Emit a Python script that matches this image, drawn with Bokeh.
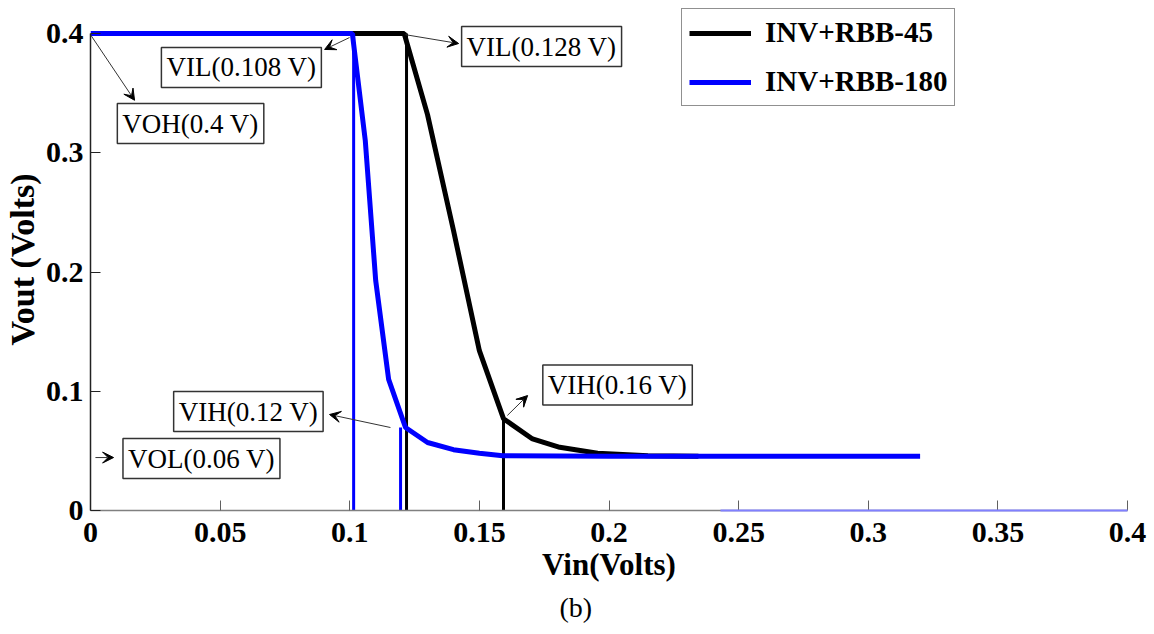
from bokeh.plotting import figure
from bokeh.models import (Range1d, FixedTicker, Label, Arrow, VeeHead, Legend, LegendItem, Title)
from bokeh.embed import file_html
from bokeh.resources import INLINE

# ---- data ----
vin_45 = [0.1, 0.121, 0.13, 0.14, 0.15, 0.1593, 0.1705, 0.181, 0.1956, 0.215, 0.2345]
vout_45 = [0.4, 0.4, 0.332, 0.235, 0.134, 0.077, 0.060, 0.053, 0.048, 0.046, 0.0455]

vin_180 = [0.0, 0.101, 0.106, 0.11, 0.115, 0.1215, 0.13, 0.14, 0.15, 0.159, 0.2, 0.25, 0.32]
vout_180 = [0.4, 0.4, 0.31, 0.193, 0.11, 0.0696, 0.057, 0.051, 0.048, 0.046, 0.0455, 0.0455, 0.0455]

# vertical marker lines (x position, top value, series)
mark_x = [0.1015, 0.1196, 0.1219, 0.1593]
mark_top = [0.4, 0.0696, 0.4, 0.077]
mark_color = ["#0000ff", "#0000ff", "#000000", "#000000"]

# baseline trace of the RBB-180 sweep along 0 V
base_x = [0.243, 0.4]
base_y = [0.0, 0.0]

x_ticks = [0, 0.05, 0.1, 0.15, 0.2, 0.25, 0.3, 0.35, 0.4]
x_tick_labels = ["0", "0.05", "0.1", "0.15", "0.2", "0.25", "0.3", "0.35", "0.4"]
y_ticks = [0, 0.1, 0.2, 0.3, 0.4]
y_tick_labels = ["0", "0.1", "0.2", "0.3", "0.4"]

series_names = ["INV+RBB-45", "INV+RBB-180"]

annot_texts = ["VOH(0.4 V)", "VIL(0.108 V)", "VIL(0.128 V)", "VIH(0.12 V)", "VOL(0.06 V)", "VIH(0.16 V)"]
caption = "(b)"

# ---- figure ----
SERIF = "Liberation Serif"
y_top = 0.4 + 25 / 1192.5  # headroom above the axis so the legend box is not clipped
p = figure(width=1150, height=630, output_backend="svg", toolbar_location=None,
           x_range=Range1d(0, 0.4), y_range=Range1d(0, y_top),
           min_border_left=90, min_border_right=23, min_border_top=8, min_border_bottom=120)
p.outline_line_color = None
p.xgrid.visible = False
p.ygrid.visible = False
p.background_fill_color = "white"

p.xaxis.ticker = FixedTicker(ticks=x_ticks)
p.xaxis.major_label_overrides = {t: l for t, l in zip(x_ticks, x_tick_labels)}
p.yaxis.ticker = FixedTicker(ticks=y_ticks)
p.yaxis.major_label_overrides = {t: l for t, l in zip(y_ticks, y_tick_labels)}
p.yaxis.bounds = (0, 0.4)
for ax in (p.xaxis, p.yaxis):
    ax.minor_tick_line_color = None
    ax.major_tick_in = 10
    ax.major_tick_out = 0
    ax.major_label_text_font = SERIF
    ax.major_label_text_font_style = "bold"
    ax.major_label_text_font_size = "30px"
    ax.major_label_text_color = "black"
    ax.axis_label_text_font = SERIF
    ax.axis_label_text_font_style = "bold"
    ax.axis_label_text_color = "black"
    ax.axis_line_width = 1.5
p.xaxis.axis_line_color = "#808080"
p.xaxis.major_tick_line_color = "#606060"
p.yaxis.axis_line_color = "#222222"
p.yaxis.major_tick_line_color = "#222222"
p.xaxis.major_label_standoff = 12
p.yaxis.major_label_standoff = 7
p.xaxis.axis_label = "Vin(Volts)"
p.yaxis.axis_label = "Vout (Volts)"
p.xaxis.axis_label_text_font_size = "31px"
p.yaxis.axis_label_text_font_size = "34px"
p.xaxis.axis_label_standoff = 2
p.yaxis.axis_label_standoff = 2

# ---- marks ----
rb = p.segment(x0=base_x[0], y0=base_y[0], x1=base_x[1], y1=base_y[1], line_color="#8080ff", line_width=2)
rb.level = "overlay"
r45 = p.line(vin_45, vout_45, line_color="black", line_width=5)
p.segment(x0=mark_x, y0=[0] * len(mark_x), x1=mark_x, y1=mark_top, line_color=mark_color, line_width=3)
r180 = p.line(vin_180, vout_180, line_color="#0000ff", line_width=5)

legend = Legend(items=[LegendItem(label=series_names[0], renderers=[r45]),
                       LegendItem(label=series_names[1], renderers=[r180])],
                location=(591, 404))
legend.label_text_font = SERIF
legend.label_text_font_style = "bold"
legend.label_text_font_size = "29px"
legend.label_text_color = "black"
legend.glyph_width = 62
legend.glyph_height = 30
legend.label_height = 30
legend.label_standoff = 14
legend.spacing = 16
legend.padding = 7
legend.margin = 0
legend.border_line_color = "#222222"
legend.border_line_width = 1.5
legend.background_fill_alpha = 1.0
p.add_layout(legend, "center")

# ---- annotations ----
label_pos = [(0.0386, 0.3245), (0.0582, 0.3715), (0.174, 0.389), (0.0609, 0.083), (0.0428, 0.0436), (0.2033, 0.1052)]
arrow_pos = [((0.0, 0.399), (0.017, 0.344)),
             ((0.0999, 0.3966), (0.0903, 0.3866)),
             ((0.1215, 0.399), (0.142, 0.3916)),
             ((0.1157, 0.0696), (0.0922, 0.0805)),
             ((0.0019, 0.0444), (0.0089, 0.0444)),
             ((0.1608, 0.0797), (0.1686, 0.0964))]
for txt, (lx, ly), ((x0, y0), (x1, y1)) in zip(annot_texts, label_pos, arrow_pos):
    p.add_layout(Label(x=lx, y=ly, text=txt, text_align="center", text_baseline="middle",
                       text_font=SERIF, text_font_size="27px", text_color="black",
                       border_line_color="#333333", border_line_width=1.5,
                       background_fill_color="white", padding=5))
    p.add_layout(Arrow(x_start=x0, y_start=y0, x_end=x1, y_end=y1, line_color="#333333", line_width=1,
                       end=VeeHead(size=11, line_color="black", fill_color="black", line_width=1)))

p.add_layout(Title(text=caption, align="left", offset=469, text_font=SERIF, text_font_size="28px",
                   text_font_style="normal", text_color="black"), "below")

open("out.html", "w").write(file_html(p, INLINE))
